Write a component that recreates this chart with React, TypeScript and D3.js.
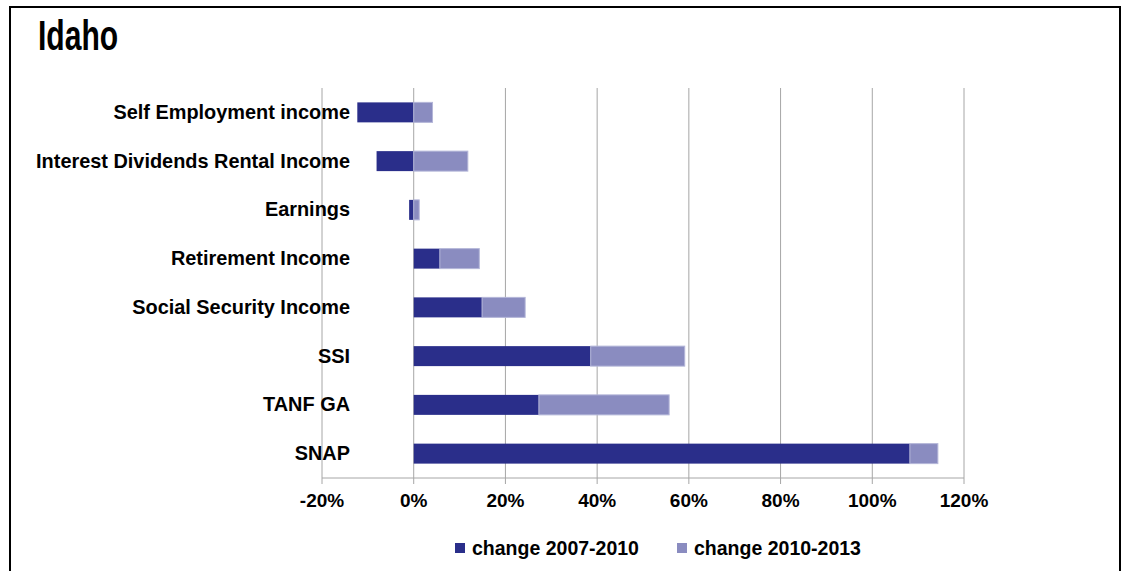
import React from "react";
import * as d3 from "d3";

const categories = [
  "Self Employment income",
  "Interest Dividends Rental Income",
  "Earnings",
  "Retirement Income",
  "Social Security Income",
  "SSI",
  "TANF GA",
  "SNAP",
];
const change2007_2010 = [-12.3, -8.1, -1.0, 5.7, 14.9, 38.6, 27.3, 108.2];
const change2010_2013 = [4.1, 11.8, 1.2, 8.6, 9.4, 20.5, 28.4, 6.1];
const seriesNames = ["change 2007-2010", "change 2010-2013"];
const seriesColors = ["#2a2e8a", "#8a8cc0"];
const xTicks = [-20, 0, 20, 40, 60, 80, 100, 120];

const W = 1125;
const H = 571;

export default function App() {
  const x = d3.scaleLinear().domain([-20, 120]).range([322, 964]);
  const y = d3.scaleBand().domain(categories).range([88, 478]).paddingInner(0.59).paddingOuter(0.295);

  const rows = categories.map((c, i) => ({ cat: c, a: change2007_2010[i], b: change2010_2013[i] }));
  const stack = d3.stack<any>().keys(["a", "b"]).offset(d3.stackOffsetDiverging);
  const layers = stack(rows);

  const font = "'Liberation Sans', Arial, sans-serif";

  return (
    <svg width={W} height={H} style={{ position: "absolute", left: 0, top: 0 }}>
      <rect x={0} y={0} width={W} height={H} fill="#fff" />
      <rect x={10} y={7} width={1110} height={H + 10} fill="none" stroke="#000" strokeWidth={2} />
      <text
        x={38}
        y={50}
        fontFamily={font}
        fontWeight="bold"
        fontSize={43}
        transform={`translate(38,0) scale(0.7,1) translate(-38,0)`}
        fill="#000"
      >
        Idaho
      </text>
      {xTicks.map((t) => (
        <line key={t} x1={x(t)} x2={x(t)} y1={88} y2={484} stroke="#a6a6a6" strokeWidth={1} />
      ))}
      <line x1={x(-20)} x2={x(120)} y1={478} y2={478} stroke="#a6a6a6" strokeWidth={1} />
      {layers.map((layer, li) =>
        layer.map((d: any, i: number) => {
          const x0 = x(Math.min(d[0], d[1]));
          const x1 = x(Math.max(d[0], d[1]));
          return (
            <rect
              key={`${li}-${i}`}
              x={x0}
              y={y(categories[i])!}
              width={Math.max(0, x1 - x0)}
              height={y.bandwidth()}
              fill={seriesColors[li]}
              stroke={li === 1 ? "#b4b6d8" : "none"}
              strokeWidth={li === 1 ? 1 : 0}
            />
          );
        })
      )}
      {categories.map((c) => (
        <text
          key={c}
          x={350}
          y={y(c)! + y.bandwidth() / 2 + 6.5}
          textAnchor="end"
          fontFamily={font}
          fontWeight="bold"
          fontSize={19.9}
          fill="#000"
        >
          {c}
        </text>
      ))}
      {xTicks.map((t) => (
        <text
          key={t}
          x={x(t)}
          y={507}
          textAnchor="middle"
          fontFamily={font}
          fontWeight="bold"
          fontSize={19}
          fill="#000"
        >
          {`${t}%`}
        </text>
      ))}
      {seriesNames.map((s, i) => {
        const lx = [455, 677][i];
        return (
          <g key={s}>
            <rect x={lx} y={543} width={10} height={10} fill={seriesColors[i]} />
            <text x={lx + 17} y={555} fontFamily={font} fontWeight="bold" fontSize={19.5} fill="#000">
              {s}
            </text>
          </g>
        );
      })}
    </svg>
  );
}
